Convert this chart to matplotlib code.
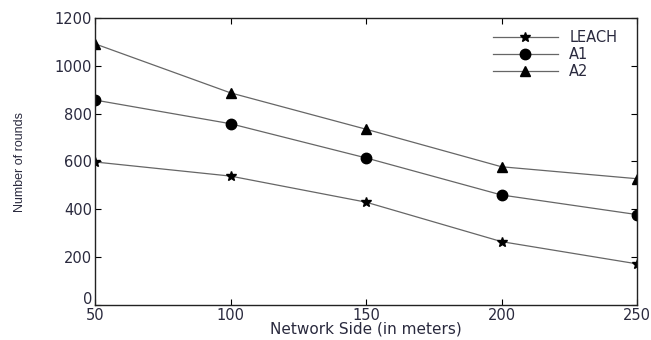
import numpy as np
import matplotlib.pyplot as plt
from matplotlib.transforms import ScaledTranslation

plt.rcParams['font.family'] = ['DejaVu Sans']

network_side = [50, 100, 150, 200, 250]
leach = [598, 539, 430, 265, 172]
a1 = [857, 758, 615, 460, 378]
a2 = [1092, 887, 735, 578, 528]

text_color = '#2a2a3e'

fig = plt.figure(figsize=(6.51, 3.4), dpi=100)
ax = fig.add_axes([95 / 651, 35 / 340, 542 / 651, 287 / 340])

ax.plot(network_side, leach, color='#666666', lw=0.9, marker='*', ms=7.5,
        mfc='black', mec='black', label='LEACH')
ax.plot(network_side, a1, color='#666666', lw=0.9, marker='o', ms=7.5,
        mfc='black', mec='black', label='A1')
ax.plot(network_side, a2, color='#666666', lw=0.9, marker='^', ms=7.5,
        mfc='black', mec='black', label='A2')

ax.set_xlim(50, 250)
ax.set_ylim(0, 1200)
ax.set_xticks(network_side)
ax.set_yticks(np.arange(0, 1201, 200))
ax.tick_params(direction='in', top=True, right=True, length=4, pad=2,
               labelsize=10.5, labelcolor=text_color)
for s in ax.spines.values():
    s.set_linewidth(1.0)
    s.set_color('#222222')

# nudge the "0" up so it sits above the "50" like in the original
lbl0 = ax.get_yticklabels()[0]
lbl0.set_transform(lbl0.get_transform() + ScaledTranslation(0, 5 / 72, fig.dpi_scale_trans))

ax.set_xlabel('Network Side (in meters)', fontsize=11, color=text_color, labelpad=-1)
ax.set_ylabel('Number of rounds', fontsize=9, color=text_color, labelpad=21,
              family='Liberation Sans')

leg = ax.legend(loc='upper right', frameon=False, fontsize=10.5,
                handlelength=4.4, labelspacing=0.15, borderaxespad=0.4,
                bbox_to_anchor=(0.985, 1.0))
for t in leg.get_texts():
    t.set_color(text_color)

fig.savefig('out.png', dpi=100)
